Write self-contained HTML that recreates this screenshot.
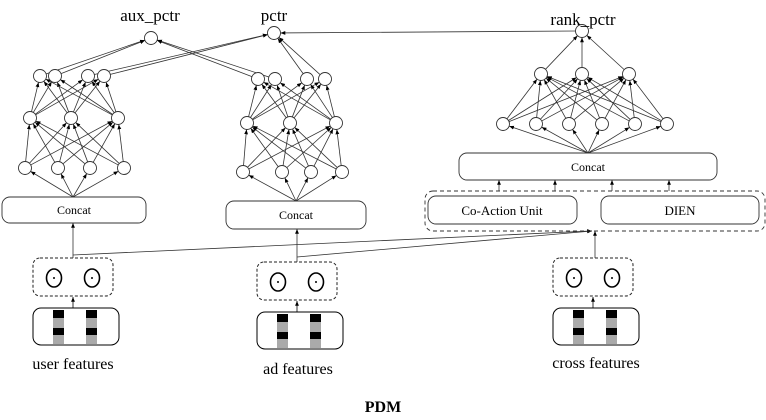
<!DOCTYPE html>
<html><head><meta charset="utf-8"><style>
html,body{margin:0;padding:0;background:#fff;}
svg{display:block;font-family:"Liberation Serif",serif;}
</style></head><body>
<svg id="s" width="766" height="420" viewBox="0 0 766 420" xmlns="http://www.w3.org/2000/svg">
<defs>
<marker id="a" viewBox="0 0 10 10" refX="10" refY="5" markerWidth="6" markerHeight="6" orient="auto"><path d="M0,1 L10,5 L0,9 z" fill="#000"/></marker>
</defs>
<g id="lines" stroke="#333" stroke-width="0.8" fill="none"></g>
<g id="nodes" stroke="#333" stroke-width="0.9" fill="#fff"></g>
<g font-size="17" text-anchor="middle" fill="#000">
<text x="150" y="21">aux_pctr</text>
<text x="274" y="21">pctr</text>
<text x="583" y="25">rank_pctr</text>
</g>
<g fill="none" stroke="#333" stroke-width="0.9">
<rect x="2" y="197" width="144" height="26" rx="8"/>
<rect x="226" y="201" width="140" height="28" rx="8"/>
<rect x="459" y="153" width="258" height="27" rx="8"/>
<rect x="425" y="191" width="340" height="40" rx="8" stroke-dasharray="4,3"/>
<rect x="428" y="196" width="149" height="28" rx="8"/>
<rect x="601" y="196" width="158" height="28" rx="8"/>
</g>
<g font-size="12" text-anchor="middle" fill="#000">
<text x="74" y="214">Concat</text>
<text x="296" y="219">Concat</text>
<text x="588" y="171">Concat</text>
<text x="502" y="215" font-size="13">Co-Action Unit</text>
<text x="680" y="215" font-size="13">DIEN</text>
</g>
<g id="feat"></g>
<g font-size="16" text-anchor="middle" fill="#000">
<text x="73" y="369">user features</text>
<text x="298" y="374">ad features</text>
<text x="596" y="368">cross features</text>
<text x="383" y="412" font-weight="bold">PDM</text>
</g>
</svg>
<script>
var NS="http://www.w3.org/2000/svg";
var L=document.getElementById('lines'),N=document.getElementById('nodes'),F=document.getElementById('feat');
function el(p,t,a){var e=document.createElementNS(NS,t);for(var k in a)e.setAttribute(k,a[k]);p.appendChild(e);return e;}
var R=6.5;
function arrow(x1,y1,x2,y2,r1,r2,noarrow){var dx=x2-x1,dy=y2-y1,d=Math.sqrt(dx*dx+dy*dy);
 var a={x1:x1+dx/d*r1,y1:y1+dy/d*r1,x2:x2-dx/d*r2,y2:y2-dy/d*r2};if(!noarrow)a['marker-end']='url(#a)';el(L,'line',a);}
function node(x,y){el(N,'circle',{cx:x,cy:y,r:R});}
function full(A,B,ya,yb){A.forEach(function(a){B.forEach(function(b){arrow(a,ya,b,yb,R,R);});});}
// left
var l1=[25,58,90,124],l2=[30,71,118],l3=[40,55,88,104];
full(l1,l2,168,118);full(l2,l3,118,76);
l1.forEach(function(x){arrow(73,197,x,168,0,R);});
// middle
var m1=[243,282,311,342],m2=[247,290,336],m3=[258,275,307,325];
full(m1,m2,172,123);full(m2,m3,123,79);
m1.forEach(function(x){arrow(296,201,x,172,0,R);});
// right
var r1=[503,536,569,602,635,667],r2=[541,582,629];
full(r1,r2,124,74);
r1.forEach(function(x){arrow(588,153,x,124,0,R);});
r2.forEach(function(x){arrow(x,74,582,31,R,R);});
// outputs
[[40,76],[55,76],[258,79],[275,79]].forEach(function(p){arrow(p[0],p[1],151,38,R,R);});
[[88,76],[104,76],[307,79],[325,79]].forEach(function(p){arrow(p[0],p[1],274,33,R,R);});
arrow(576,31,274,33,0,R);
[499,555,612,669].forEach(function(x){arrow(x,191,x,180,0,0);});
// feature links
arrow(73,258,73,223,0,0);arrow(297,262,297,229,0,0);arrow(595,258,595,231,0,0);
el(L,'polyline',{points:"73,255 590,231"});el(L,'line',{x1:590,y1:231,x2:592,y2:231,'marker-end':'url(#a)'});
el(L,'line',{x1:297,y1:257,x2:592,y2:231,'marker-end':'url(#a)'});
[nodeList=[].concat()];
l1.forEach(function(x){node(x,168)});l2.forEach(function(x){node(x,118)});l3.forEach(function(x){node(x,76)});
m1.forEach(function(x){node(x,172)});m2.forEach(function(x){node(x,123)});m3.forEach(function(x){node(x,79)});
r1.forEach(function(x){node(x,124)});r2.forEach(function(x){node(x,74)});
node(151,38);node(274,33);node(582,31);
// feature blocks
function block(x,y){ // x: left of dashed box, y: top
 el(F,'rect',{x:x,y:y,width:80,height:38,rx:7,fill:'none',stroke:'#222','stroke-dasharray':'3,2'});
 [21,59].forEach(function(dx){el(F,'ellipse',{cx:x+dx,cy:y+20,rx:7.5,ry:9,fill:'none',stroke:'#000','stroke-width':1.6});
   el(F,'circle',{cx:x+dx,cy:y+20,r:1,fill:'#000'});});
 el(F,'line',{x1:x+40,y1:y+50,x2:x+40,y2:y+39,stroke:'#000','stroke-width':0.8,'marker-end':'url(#a)'});
 el(F,'rect',{x:x,y:y+50,width:86,height:37,rx:8,fill:'none',stroke:'#000','stroke-width':1});
 [20,53].forEach(function(dx){var bx=x+dx,by=y+52;
  [['#000',8],['#aaa',10],['#000',7],['#aaa',9]].forEach(function(s){el(F,'rect',{x:bx,y:by,width:11,height:s[1],fill:s[0]});by+=s[1];});});
}
block(33,258);block(257,262);block(553,258);
</script>
</body></html>
